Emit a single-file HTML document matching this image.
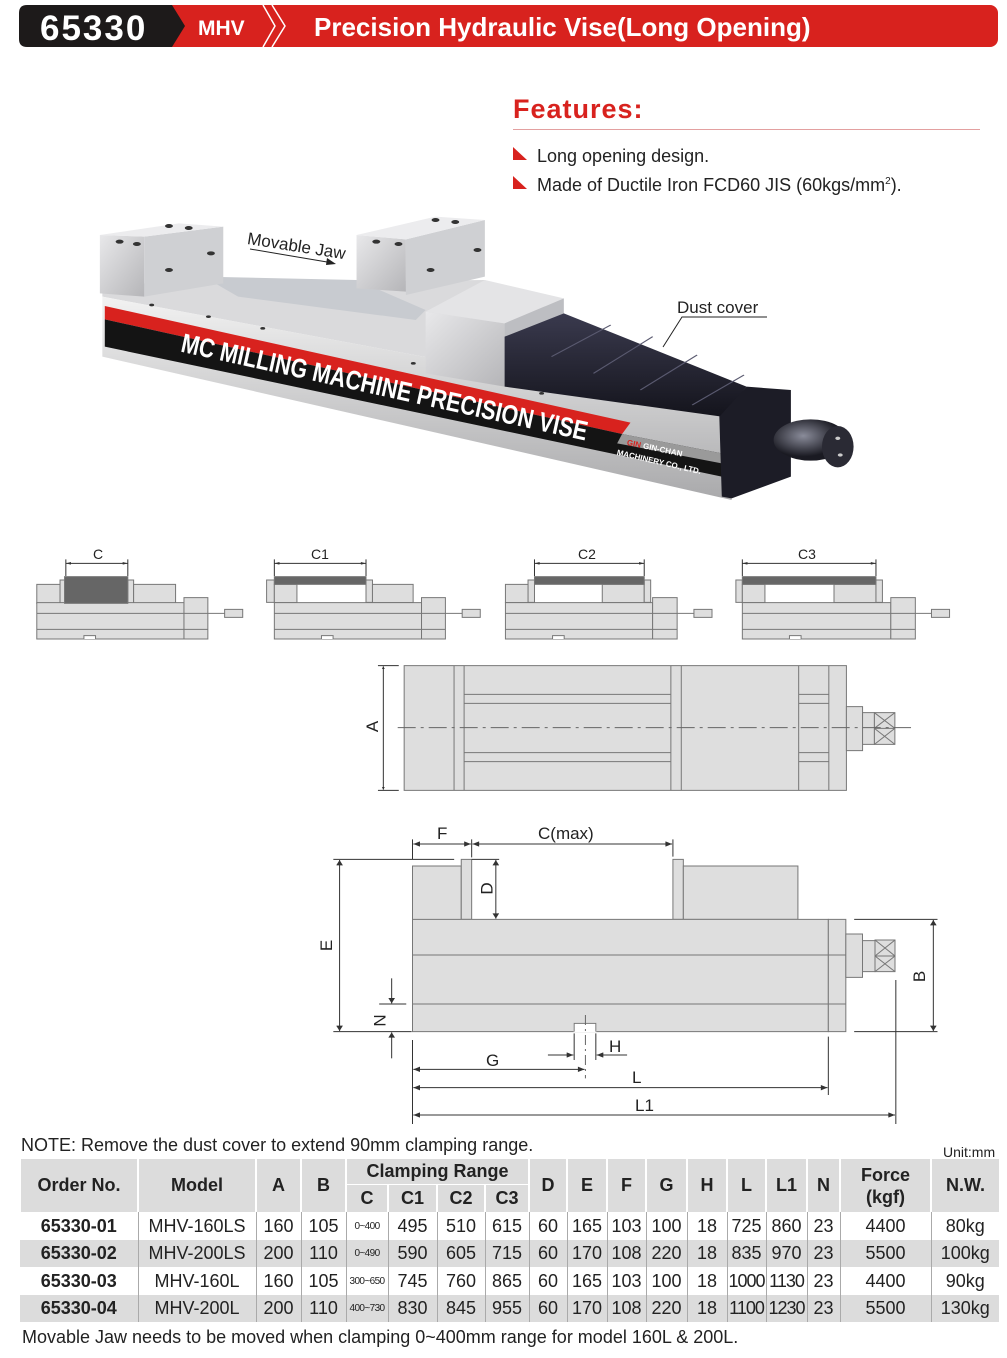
<!DOCTYPE html>
<html><head><meta charset="utf-8"><style>
body{margin:0;background:#fff;}
#p{position:relative;width:1007px;height:1358px;overflow:hidden;font-family:"Liberation Sans",sans-serif;color:#222;}
.a{position:absolute;white-space:nowrap;}
.lb{position:absolute;font-size:17px;color:#222;line-height:1;}
.rot{transform:rotate(-90deg);}
table{position:absolute;left:19px;top:1159px;border-collapse:collapse;table-layout:fixed;width:979px;font-size:18px;}
td{text-align:center;padding:0;border-left:1px solid #aaa;overflow:hidden;white-space:nowrap;}
tr.h td{background:#dcdcdc;font-weight:bold;border-left:2px solid #fff;}
tr.g td{background:#dcdcdc;}
td.sm{font-size:10px;letter-spacing:-0.6px;}
td:first-child{border-left:none;}
</style></head><body><div id="p">

<!-- header -->
<svg class="a" style="left:0;top:0" width="1007" height="55">
<rect x="160" y="5" width="838" height="42" rx="8" fill="#d8221e"/>
<path d="M27 5 H172 L185 26 L172 47 H27 Q19 47 19 39 V13 Q19 5 27 5Z" fill="#1d1a1a"/>
<polyline points="263,5 275,26 263,47" fill="none" stroke="#fff" stroke-width="1.5"/>
<polyline points="272,5 285,26 272,47" fill="none" stroke="#fff" stroke-width="1.5"/>
<text x="40" y="40" font-size="35" font-weight="bold" fill="#fff" letter-spacing="2" font-family="Liberation Sans">65330</text>
<text x="198" y="35" font-size="21" font-weight="bold" fill="#fff" font-family="Liberation Sans">MHV</text>
<text x="314" y="36" font-size="26" font-weight="bold" fill="#fff" font-family="Liberation Sans">Precision Hydraulic  Vise(Long Opening)</text>
</svg>

<!-- features -->
<div class="a" style="left:513px;top:94px;font-size:27px;font-weight:bold;color:#d8221e;letter-spacing:1px;">Features:</div>
<div class="a" style="left:513px;top:129px;width:467px;height:1px;background:#e3a0a0;"></div>
<svg class="a" style="left:513px;top:147px" width="16" height="50"><polygon points="0,0 0,13 14,13" fill="#d8221e"/><polygon points="0,29 0,42 14,42" fill="#d8221e"/></svg>
<div class="a" style="left:537px;top:146px;font-size:18px;">Long opening design.</div>
<div class="a" style="left:537px;top:175px;font-size:18px;">Made of Ductile Iron FCD60 JIS (60kgs/mm<sup style="font-size:10px">2</sup>).</div>

<!-- photo -->
<svg class="a" style="left:90px;top:200px" width="770" height="320" viewBox="0 0 1560 960" preserveAspectRatio="none">
<defs>
<linearGradient id="sv" x1="0" y1="0" x2="0" y2="1"><stop offset="0" stop-color="#f2f2f2"/><stop offset="1" stop-color="#a9a9ab"/></linearGradient>
<linearGradient id="sv2" x1="0" y1="0" x2="1" y2="1"><stop offset="0" stop-color="#e8e8ea"/><stop offset="1" stop-color="#b5b5b8"/></linearGradient>
<linearGradient id="dk" x1="0" y1="0" x2="0" y2="1"><stop offset="0" stop-color="#3a3a4e"/><stop offset="1" stop-color="#14141c"/></linearGradient>
<radialGradient id="kn" cx="0.4" cy="0.4"><stop offset="0" stop-color="#8a8c9a"/><stop offset="1" stop-color="#1a1a22"/></radialGradient>
</defs>
<polygon points="25,255 110,250 800,240 1290,560 1290,640 25,290" fill="#dadadc"/>
<polygon points="230,230 540,240 680,330 660,360 300,290" fill="#c8cbd0"/>
<polygon points="25,290 1290,640 1300,900 25,470" fill="url(#sv)"/>
<polygon points="30,318 1095,668 1078,702 30,358" fill="#d8221e"/>
<polygon points="30,358 1078,702 1280,760 1280,830 30,440" fill="#141414"/>
<polygon points="1078,702 1280,760 1280,790 1068,730" fill="#9a9a9a"/>
<polygon points="20,105 110,110 110,290 20,280" fill="url(#sv2)"/>
<polygon points="110,110 270,80 270,250 110,290" fill="#cfd0d3"/>
<polygon points="20,105 180,70 270,80 110,110" fill="#ececee"/>
<polygon points="540,105 640,118 640,275 540,265" fill="url(#sv2)"/>
<polygon points="640,118 800,60 800,230 640,285" fill="#cfd0d3"/>
<polygon points="540,105 700,50 800,60 640,118" fill="#ececee"/>
<g fill="#333"><ellipse cx="60" cy="125" rx="8" ry="6"/><ellipse cx="95" cy="132" rx="8" ry="6"/><ellipse cx="160" cy="78" rx="8" ry="6"/><ellipse cx="200" cy="84" rx="8" ry="6"/><ellipse cx="245" cy="160" rx="8" ry="6"/><ellipse cx="160" cy="210" rx="8" ry="6"/><ellipse cx="580" cy="125" rx="8" ry="6"/><ellipse cx="625" cy="132" rx="8" ry="6"/><ellipse cx="700" cy="60" rx="8" ry="6"/><ellipse cx="740" cy="66" rx="8" ry="6"/><ellipse cx="785" cy="150" rx="8" ry="6"/><ellipse cx="690" cy="210" rx="8" ry="6"/><ellipse cx="125" cy="315" rx="5" ry="4"/><ellipse cx="240" cy="350" rx="5" ry="4"/><ellipse cx="350" cy="385" rx="5" ry="4"/><ellipse cx="655" cy="490" rx="5" ry="4"/><ellipse cx="785" cy="540" rx="5" ry="4"/><ellipse cx="915" cy="580" rx="5" ry="4"/></g>
<polygon points="680,335 840,370 840,560 680,520" fill="url(#sv2)"/>
<polygon points="680,335 800,240 960,295 840,370" fill="#e4e4e6"/>
<polygon points="840,370 960,295 960,470 840,560" fill="#bdbec2"/>
<polygon points="840,410 960,340 1330,560 1280,650 840,560" fill="url(#dk)"/>
<g stroke="#5a5a70" stroke-width="3" fill="none"><polyline points="935,470 1055,375"/><polyline points="1020,520 1140,410"/><polyline points="1115,570 1230,465"/><polyline points="1220,615 1325,525"/></g>
<polygon points="1275,650 1330,560 1420,570 1420,830 1300,895 1280,890" fill="#1c1c26"/>
<ellipse cx="1460" cy="720" rx="75" ry="62" fill="url(#kn)"/>
<ellipse cx="1515" cy="740" rx="32" ry="62" fill="#2a2a34"/>
<g fill="#ccc"><circle cx="1515" cy="715" r="5"/><circle cx="1520" cy="765" r="5"/></g>
</svg>
<div class="a" style="left:185px;top:328px;font-size:27px;font-weight:bold;color:#fff;transform:rotate(12.4deg) scaleX(0.8);transform-origin:left top;">MC MILLING MACHINE PRECISION VISE</div>
<div class="a" style="left:628px;top:438px;font-size:8px;font-weight:bold;color:#fff;transform:rotate(12deg);transform-origin:left top;"><span style="color:#d8221e">GIN</span> GIN-CHAN</div>
<div class="a" style="left:618px;top:448px;font-size:8px;font-weight:bold;color:#fff;transform:rotate(13deg);transform-origin:left top;">MACHINERY CO., LTD.</div>
<div class="a" style="left:249px;top:229px;font-size:17px;transform:rotate(9deg);transform-origin:left top;">Movable Jaw</div>
<svg class="a" style="left:248px;top:246px" width="95" height="25"><line x1="2" y1="3" x2="85" y2="17" stroke="#222"/><polygon points="88,18 79,12 78,19" fill="#222"/></svg>
<div class="a" style="left:677px;top:298px;font-size:17px;">Dust cover</div>
<svg class="a" style="left:655px;top:315px" width="120" height="35"><polyline points="112,2 27,2 8,32" fill="none" stroke="#222"/></svg>

<!-- small views -->
<svg class="a" style="left:0;top:540px" width="1007" height="110" viewBox="0 0 1560 330" preserveAspectRatio="none">
<defs><marker id="ar" viewBox="0 0 10 10" refX="10" refY="5" markerWidth="14" markerHeight="8" markerUnits="userSpaceOnUse" orient="auto-start-reverse"><path d="M0,0 L10,5 L0,10z" fill="#333"/></marker></defs>
<g fill="#dedede" stroke="#777" stroke-width="1">
<rect x="57" y="133" width="36" height="57" vector-effect="non-scaling-stroke"/><rect x="93" y="120" width="7" height="70" vector-effect="non-scaling-stroke"/><rect x="198" y="120" width="9" height="70" vector-effect="non-scaling-stroke"/><rect x="207" y="133" width="65" height="57" vector-effect="non-scaling-stroke"/>
<rect x="57" y="188" width="228" height="109" vector-effect="non-scaling-stroke"/><rect x="285" y="173" width="37" height="124" vector-effect="non-scaling-stroke"/><rect x="348" y="208" width="28" height="24" vector-effect="non-scaling-stroke"/>
<rect x="100" y="110" width="98" height="80" fill="#666" vector-effect="non-scaling-stroke"/>
<rect x="413" y="120" width="12" height="67" vector-effect="non-scaling-stroke"/><rect x="425" y="133" width="35" height="55" vector-effect="non-scaling-stroke"/><rect x="567" y="120" width="10" height="67" vector-effect="non-scaling-stroke"/><rect x="577" y="133" width="63" height="55" vector-effect="non-scaling-stroke"/>
<rect x="425" y="188" width="228" height="109" vector-effect="non-scaling-stroke"/><rect x="653" y="173" width="37" height="124" vector-effect="non-scaling-stroke"/><rect x="716" y="208" width="28" height="24" vector-effect="non-scaling-stroke"/>
<rect x="425" y="110" width="142" height="23" fill="#666" vector-effect="non-scaling-stroke"/>
<rect x="818" y="120" width="10" height="67" vector-effect="non-scaling-stroke"/><rect x="783" y="133" width="35" height="55" vector-effect="non-scaling-stroke"/><rect x="933" y="133" width="65" height="55" vector-effect="non-scaling-stroke"/><rect x="998" y="120" width="10" height="67" vector-effect="non-scaling-stroke"/>
<rect x="783" y="188" width="228" height="109" vector-effect="non-scaling-stroke"/><rect x="1011" y="173" width="38" height="124" vector-effect="non-scaling-stroke"/><rect x="1075" y="208" width="28" height="24" vector-effect="non-scaling-stroke"/>
<rect x="828" y="110" width="170" height="23" fill="#666" vector-effect="non-scaling-stroke"/>
<rect x="1140" y="120" width="10" height="67" vector-effect="non-scaling-stroke"/><rect x="1150" y="133" width="35" height="55" vector-effect="non-scaling-stroke"/><rect x="1292" y="133" width="65" height="55" vector-effect="non-scaling-stroke"/><rect x="1357" y="120" width="10" height="67" vector-effect="non-scaling-stroke"/>
<rect x="1150" y="188" width="230" height="109" vector-effect="non-scaling-stroke"/><rect x="1380" y="173" width="38" height="124" vector-effect="non-scaling-stroke"/><rect x="1443" y="208" width="28" height="24" vector-effect="non-scaling-stroke"/>
<rect x="1150" y="110" width="207" height="23" fill="#666" vector-effect="non-scaling-stroke"/>
</g>
<g stroke="#777">
<path d="M57 220H322M57 268H322M425 220H690M425 268H690M783 220H1049M783 268H1049M1150 220H1418M1150 268H1418M322 220H348M690 220H716M1049 220H1075M1418 220H1443" vector-effect="non-scaling-stroke"/>
<path d="M130 297V287H148V297M498 297V287H516V297M856 297V287H874V297M1223 297V287H1241V297" fill="#fff" vector-effect="non-scaling-stroke"/>
</g>
<g stroke="#333">
<line x1="102" y1="70" x2="198" y2="70" marker-start="url(#ar)" marker-end="url(#ar)" vector-effect="non-scaling-stroke"/>
<line x1="425" y1="70" x2="567" y2="70" marker-start="url(#ar)" marker-end="url(#ar)" vector-effect="non-scaling-stroke"/>
<line x1="828" y1="70" x2="998" y2="70" marker-start="url(#ar)" marker-end="url(#ar)" vector-effect="non-scaling-stroke"/>
<line x1="1150" y1="70" x2="1357" y2="70" marker-start="url(#ar)" marker-end="url(#ar)" vector-effect="non-scaling-stroke"/>
<path d="M102 58V108M198 58V108M425 58V108M567 58V108M828 58V108M998 58V108M1150 58V108M1357 58V108" vector-effect="non-scaling-stroke"/>
</g>
</svg>
<div class="lb" style="left:93px;top:547px;font-size:14px;">C</div>
<div class="lb" style="left:311px;top:547px;font-size:14px;">C1</div>
<div class="lb" style="left:578px;top:547px;font-size:14px;">C2</div>
<div class="lb" style="left:798px;top:547px;font-size:14px;">C3</div>

<!-- top view -->
<svg class="a" style="left:360px;top:655px" width="560" height="145" viewBox="0 0 1560 435" preserveAspectRatio="none">
<defs><marker id="ar2" viewBox="0 0 10 10" refX="10" refY="5" markerWidth="8" markerHeight="40" markerUnits="userSpaceOnUse" orient="auto-start-reverse"><path d="M0,0 L10,5 L0,10z" fill="#333"/></marker></defs>
<g fill="#dedede" stroke="#777">
<rect x="123" y="32" width="1232" height="374" vector-effect="non-scaling-stroke"/>
<rect x="1355" y="155" width="45" height="132" vector-effect="non-scaling-stroke"/>
<rect x="1400" y="173" width="33" height="95" vector-effect="non-scaling-stroke"/>
<rect x="1433" y="173" width="57" height="95" vector-effect="non-scaling-stroke"/>
</g>
<path d="M262 32V406M290 32V406M866 32V406M895 32V406M1222 32V406M1306 32V406M290 118H866M290 145H866M290 293H866M290 320H866M1222 118H1306M1222 145H1306M1222 293H1306M1222 320H1306M1433 173L1490 220M1490 173L1433 220M1433 220L1490 268M1490 220L1433 268M1433 220H1490" stroke="#777" fill="none" vector-effect="non-scaling-stroke"/>
<line x1="105" y1="218" x2="1535" y2="218" stroke="#666" stroke-dasharray="18 5 3 5" vector-effect="non-scaling-stroke"/>
<line x1="65" y1="34" x2="65" y2="404" stroke="#333" marker-start="url(#ar2)" marker-end="url(#ar2)" vector-effect="non-scaling-stroke"/>
<path d="M50 32H108M50 406H108" stroke="#333" vector-effect="non-scaling-stroke"/>
</svg>
<div class="lb rot" style="left:367px;top:718px;">A</div>

<!-- side view -->
<svg class="a" style="left:300px;top:820px" width="650" height="310" viewBox="0 0 1560 930" preserveAspectRatio="none">
<defs><marker id="ar3" viewBox="0 0 10 10" refX="10" refY="5" markerWidth="20" markerHeight="16" markerUnits="userSpaceOnUse" orient="auto-start-reverse"><path d="M0,0 L10,5 L0,10z" fill="#333"/></marker></defs>
<g fill="#dedede" stroke="#777">
<rect x="270" y="138" width="117" height="165" vector-effect="non-scaling-stroke"/>
<rect x="387" y="118" width="25" height="180" vector-effect="non-scaling-stroke"/>
<rect x="895" y="118" width="25" height="180" vector-effect="non-scaling-stroke"/>
<rect x="920" y="138" width="275" height="160" vector-effect="non-scaling-stroke"/>
<rect x="270" y="298" width="998" height="337" vector-effect="non-scaling-stroke"/>
<rect x="1268" y="298" width="42" height="337" vector-effect="non-scaling-stroke"/>
<rect x="1310" y="342" width="40" height="130" vector-effect="non-scaling-stroke"/>
<rect x="1350" y="362" width="30" height="93" vector-effect="non-scaling-stroke"/>
<rect x="1380" y="360" width="48" height="95" vector-effect="non-scaling-stroke"/>
</g>
<path d="M658 635V610H710V635Z" fill="#fff" stroke="#fff" vector-effect="non-scaling-stroke"/>
<path d="M658 635V610H710V635M270 405H1310M270 552H1310M1380 360L1428 408M1428 360L1380 408M1380 408L1428 455M1428 408L1380 455M1380 408H1428" stroke="#777" fill="none" vector-effect="non-scaling-stroke"/>
<line x1="685" y1="585" x2="685" y2="775" stroke="#666" stroke-dasharray="10 4 2 4" vector-effect="non-scaling-stroke"/>
<g stroke="#333" fill="none">
<line x1="272" y1="72" x2="410" y2="72" marker-start="url(#ar3)" marker-end="url(#ar3)" vector-effect="non-scaling-stroke"/>
<line x1="414" y1="72" x2="893" y2="72" marker-start="url(#ar3)" marker-end="url(#ar3)" vector-effect="non-scaling-stroke"/>
<line x1="95" y1="120" x2="95" y2="633" marker-start="url(#ar3)" marker-end="url(#ar3)" vector-effect="non-scaling-stroke"/>
<line x1="470" y1="120" x2="470" y2="296" marker-start="url(#ar3)" marker-end="url(#ar3)" vector-effect="non-scaling-stroke"/>
<line x1="1520" y1="300" x2="1520" y2="633" marker-start="url(#ar3)" marker-end="url(#ar3)" vector-effect="non-scaling-stroke"/>
<line x1="220" y1="475" x2="220" y2="550" marker-end="url(#ar3)" vector-effect="non-scaling-stroke"/>
<line x1="220" y1="715" x2="220" y2="637" marker-end="url(#ar3)" vector-effect="non-scaling-stroke"/>
<line x1="595" y1="705" x2="656" y2="705" marker-end="url(#ar3)" vector-effect="non-scaling-stroke"/>
<line x1="785" y1="705" x2="712" y2="705" marker-end="url(#ar3)" vector-effect="non-scaling-stroke"/>
<line x1="272" y1="748" x2="683" y2="748" marker-start="url(#ar3)" marker-end="url(#ar3)" vector-effect="non-scaling-stroke"/>
<line x1="272" y1="803" x2="1266" y2="803" marker-start="url(#ar3)" marker-end="url(#ar3)" vector-effect="non-scaling-stroke"/>
<line x1="272" y1="885" x2="1428" y2="885" marker-start="url(#ar3)" marker-end="url(#ar3)" vector-effect="non-scaling-stroke"/>
<path d="M270 58V118M412 58V112M895 58V110M80 118H370M80 635H268M412 118H478M1330 298H1530M1330 635H1530M190 552H255M190 635H255M658 640V720M710 640V720M270 660V912M1268 650V825M1430 480V912" vector-effect="non-scaling-stroke"/>
</g>
</svg>
<div class="lb" style="left:437px;top:825px;">F</div>
<div class="lb" style="left:538px;top:825px;">C(max)</div>
<div class="lb rot" style="left:481px;top:880px;">D</div>
<div class="lb rot" style="left:321px;top:937px;">E</div>
<div class="lb rot" style="left:914px;top:968px;">B</div>
<div class="lb rot" style="left:374px;top:1012px;">N</div>
<div class="lb" style="left:486px;top:1052px;">G</div>
<div class="lb" style="left:609px;top:1038px;">H</div>
<div class="lb" style="left:632px;top:1069px;">L</div>
<div class="lb" style="left:635px;top:1097px;">L1</div>

<!-- notes -->
<div class="a" style="left:21px;top:1135px;font-size:18px;">NOTE: Remove the dust cover to extend 90mm clamping range.</div>
<div class="a" style="left:943px;top:1144px;font-size:14px;">Unit:mm</div>

<table>
<colgroup><col style="width:118px"><col style="width:118px"><col style="width:45px"><col style="width:45px"><col style="width:42px"><col style="width:49px"><col style="width:48px"><col style="width:44px"><col style="width:38px"><col style="width:40px"><col style="width:39px"><col style="width:41px"><col style="width:40px"><col style="width:39px"><col style="width:41px"><col style="width:33px"><col style="width:91px"><col style="width:68px"></colgroup>
<tr class="h" style="height:25px"><td rowspan="2">Order No.</td><td rowspan="2">Model</td><td rowspan="2">A</td><td rowspan="2">B</td><td colspan="4" style="border-bottom:1px solid #fff">Clamping Range</td><td rowspan="2">D</td><td rowspan="2">E</td><td rowspan="2">F</td><td rowspan="2">G</td><td rowspan="2">H</td><td rowspan="2">L</td><td rowspan="2">L1</td><td rowspan="2">N</td><td rowspan="2" style="line-height:22px">Force<br>(kgf)</td><td rowspan="2">N.W.</td></tr>
<tr class="h" style="height:28px"><td>C</td><td>C1</td><td>C2</td><td>C3</td></tr>
<tr style="height:28px"><td style="font-weight:bold">65330-01</td><td>MHV-160LS</td><td>160</td><td>105</td><td class="sm">0~400</td><td>495</td><td>510</td><td>615</td><td>60</td><td>165</td><td>103</td><td>100</td><td>18</td><td>725</td><td>860</td><td>23</td><td>4400</td><td>80kg</td></tr>
<tr class="g" style="height:27px"><td style="font-weight:bold">65330-02</td><td>MHV-200LS</td><td>200</td><td>110</td><td class="sm">0~490</td><td>590</td><td>605</td><td>715</td><td>60</td><td>170</td><td>108</td><td>220</td><td>18</td><td>835</td><td>970</td><td>23</td><td>5500</td><td>100kg</td></tr>
<tr style="height:28px"><td style="font-weight:bold">65330-03</td><td>MHV-160L</td><td>160</td><td>105</td><td class="sm">300~650</td><td>745</td><td>760</td><td>865</td><td>60</td><td>165</td><td>103</td><td>100</td><td>18</td><td style="letter-spacing:-1px">1000</td><td style="letter-spacing:-1px">1130</td><td>23</td><td>4400</td><td>90kg</td></tr>
<tr class="g" style="height:27px"><td style="font-weight:bold">65330-04</td><td>MHV-200L</td><td>200</td><td>110</td><td class="sm">400~730</td><td>830</td><td>845</td><td>955</td><td>60</td><td>170</td><td>108</td><td>220</td><td>18</td><td style="letter-spacing:-1px">1100</td><td style="letter-spacing:-1px">1230</td><td>23</td><td>5500</td><td>130kg</td></tr>
</table>
<div class="a" style="left:22px;top:1327px;font-size:18px;">Movable Jaw needs to be moved when clamping 0~400mm range for model 160L &amp; 200L.</div>
</div></body></html>
